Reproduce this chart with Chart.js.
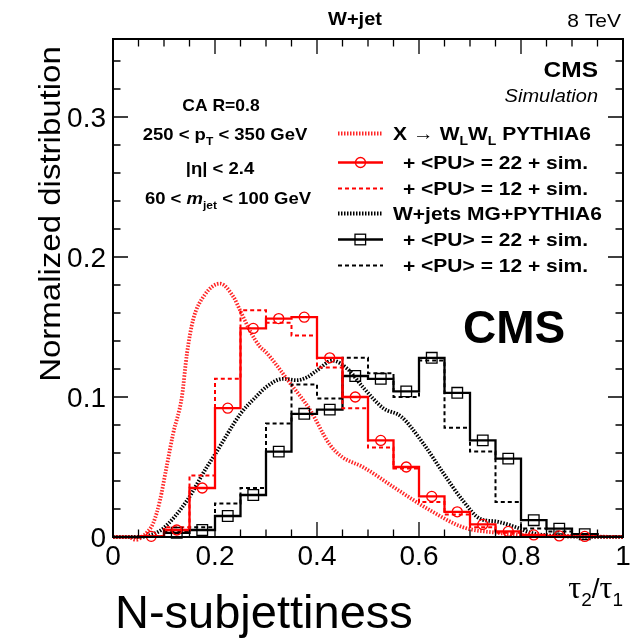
<!DOCTYPE html>
<html>
<head>
<meta charset="utf-8">
<script src="https://cdn.jsdelivr.net/npm/chart.js@4.4.1/dist/chart.umd.min.js"></script>
<style>
  html, body { margin: 0; padding: 0; background: #fff; }
  #wrap { width: 636px; height: 639px; }
</style>
</head>
<body>
<div id="wrap"><canvas id="nsub" width="636" height="639"></canvas></div>
<script>
// tau2/tau1 binning (20 bins of 0.05)
const binEdges = [0, 0.05, 0.1, 0.15, 0.2, 0.25, 0.3, 0.35, 0.4, 0.45, 0.5,
                  0.55, 0.6, 0.65, 0.7, 0.75, 0.8, 0.85, 0.9, 0.95, 1];

// X -> WLWL, PU 22 and PU 12
const wwPU22 = [0, 0.0005, 0.005, 0.035, 0.092, 0.149, 0.156, 0.157, 0.128, 0.100,
                0.069, 0.050, 0.029, 0.018, 0.009, 0.004, 0.0015, 0.0008, 0.0004, 0.0001];
const wwPU12 = [0, 0.0008, 0.007, 0.044, 0.113, 0.162, 0.153, 0.144, 0.121, 0.092,
                0.064, 0.049, 0.025, 0.016, 0.007, 0.003, 0.001, 0.0006, 0.0003, 0.0001];

// W+jets, PU 22 and PU 12
const wjPU22 = [0, 0.0003, 0.003, 0.005, 0.015, 0.030, 0.061, 0.088, 0.091, 0.115,
                0.113, 0.104, 0.128, 0.103, 0.069, 0.056, 0.012, 0.006, 0.002, 0.0003];
const wjPU12 = [0, 0.0005, 0.004, 0.007, 0.024, 0.035, 0.081, 0.109, 0.099, 0.128,
                0.117, 0.100, 0.126, 0.078, 0.061, 0.025, 0.006, 0.004, 0.002, 0.0003];

// generator-level curves (no PU)
const wwGenX = [0, 0.03, 0.045, 0.06, 0.066, 0.079, 0.092, 0.105, 0.118, 0.135, 0.145, 0.157,
                0.18, 0.21, 0.237, 0.249, 0.269, 0.288, 0.30, 0.347, 0.386, 0.425, 0.45, 0.49,
                0.557, 0.622, 0.686, 0.753, 0.82, 0.9, 1];
const wwGenY = [0, 0, -0.002, 0.001, 0.003, 0.010, 0.026, 0.050, 0.074, 0.100, 0.131, 0.155,
                0.173, 0.181, 0.171, 0.162, 0.147, 0.136, 0.132, 0.110, 0.091, 0.066, 0.057, 0.050,
                0.034, 0.019, 0.007, 0.003, 0.001, 0.0005, 0];
const wjGenX = [0, 0.05, 0.07, 0.098, 0.145, 0.184, 0.20, 0.25, 0.28, 0.30, 0.333, 0.36, 0.38,
                0.40, 0.43, 0.46, 0.49, 0.53, 0.565, 0.608, 0.647, 0.686, 0.72, 0.753, 0.79,
                0.82, 0.86, 1];
const wjGenY = [0, 0, 0.001, 0.006, 0.026, 0.050, 0.059, 0.088, 0.100, 0.107, 0.113, 0.112, 0.114,
                0.119, 0.126, 0.120, 0.107, 0.092, 0.086, 0.067, 0.046, 0.026, 0.013, 0.011, 0.007,
                0.003, 0.001, 0];

const xTickValues = [0, 0.2, 0.4, 0.6, 0.8, 1];
const xTickLabels = ['0', '0.2', '0.4', '0.6', '0.8', '1'];
const yTickValues = [0, 0.1, 0.2, 0.3];
const yTickLabels = ['0', '0.1', '0.2', '0.3'];

const RED = '#ff0000';
const RED_DOT = 'rgba(255,0,0,0.85)';
const SANS = '"Liberation Sans", Arial, sans-serif';
const SQ = 0.9;   // vertical squeeze of the ROOT-style labels

function steps(values) {
    const pts = [];
    values.forEach((v, i) => {
        pts.push({ x: binEdges[i], y: v });
        pts.push({ x: binEdges[i + 1], y: v });
    });
    return pts;
}

function centers(values, from, to) {
    const pts = [];
    for (let i = from; i <= to; i++) {
        pts.push({ x: (binEdges[i] + binEdges[i + 1]) / 2, y: values[i] });
    }
    return pts;
}

function zip(xs, ys) {
    return xs.map((x, i) => ({ x: x, y: ys[i] }));
}

// Text runs with optional sub-script offsets
function drawRuns(ctx, runs, x, y, align, sy) {
    let total = 0;
    runs.forEach(r => { ctx.font = r.font; r.w = ctx.measureText(r.t).width; total += r.w; });
    let cx = align === 'center' ? x - total / 2 : align === 'right' ? x - total : x;
    ctx.save();
    ctx.translate(0, y);
    ctx.scale(1, sy || 1);
    ctx.textAlign = 'left';
    ctx.textBaseline = 'alphabetic';
    ctx.fillStyle = '#000';
    runs.forEach(r => {
        ctx.font = r.font;
        ctx.fillText(r.t, cx, (r.dy || 0) / (sy || 1));
        cx += r.w;
    });
    ctx.restore();
}

const datasets = [
    { label: 'wwPU22 markers', data: centers(wwPU22, 1, 18), showLine: false,
      pointStyle: 'circle', pointRadius: 5, borderColor: RED, backgroundColor: 'rgba(0,0,0,0)',
      pointBorderWidth: 1.3, clip: 8 },
    { label: 'wjPU22 markers', data: centers(wjPU22, 2, 18), showLine: false,
      pointStyle: 'rect', pointRadius: 7.5, borderColor: '#000', backgroundColor: 'rgba(0,0,0,0)',
      pointBorderWidth: 1.3, clip: 8 },
    { label: 'wwPU22', data: steps(wwPU22), borderColor: RED, borderWidth: 2.3, clip: 3 },
    { label: 'wwPU12', data: steps(wwPU12), borderColor: RED, borderWidth: 2, borderDash: [4, 3], clip: 3 },
    { label: 'wjPU22', data: steps(wjPU22), borderColor: '#000', borderWidth: 2.3, clip: 3 },
    { label: 'wjPU12', data: steps(wjPU12), borderColor: '#000', borderWidth: 2, borderDash: [4, 3], clip: 3 },
    { label: 'wwGen', data: zip(wwGenX, wwGenY), borderColor: RED_DOT, borderWidth: 3.8,
      borderDash: [1.5, 1.5], cubicInterpolationMode: 'monotone', clip: 8 },
    { label: 'wjGen', data: zip(wjGenX, wjGenY), borderColor: '#000', borderWidth: 3.8,
      borderDash: [1.5, 1.5], cubicInterpolationMode: 'monotone', clip: 8 }
];

// legend rows: sample style + text runs
const B = sz => 'bold ' + sz + 'px ' + SANS;
const legendRows = [
    { line: { color: RED_DOT, width: 3.8, dash: [1.5, 1.5] }, x: 393,
      runs: [{ t: 'X \u2192 W', font: B(21) }, { t: 'L', font: B(14), dy: 5 },
             { t: 'W', font: B(21) }, { t: 'L', font: B(14), dy: 5 }, { t: ' PYTHIA6', font: B(21) }] },
    { line: { color: RED, width: 2.3, dash: [] }, marker: 'circle', x: 403,
      runs: [{ t: '+ <PU> = 22 + sim.', font: B(21) }] },
    { line: { color: RED, width: 2, dash: [4, 3] }, x: 403,
      runs: [{ t: '+ <PU> = 12 + sim.', font: B(21) }] },
    { line: { color: '#000', width: 3.8, dash: [1.5, 1.5] }, x: 393,
      runs: [{ t: 'W+jets MG+PYTHIA6', font: B(21) }] },
    { line: { color: '#000', width: 2.3, dash: [] }, marker: 'rect', x: 403,
      runs: [{ t: '+ <PU> = 22 + sim.', font: B(21) }] },
    { line: { color: '#000', width: 2, dash: [4, 3] }, x: 403,
      runs: [{ t: '+ <PU> = 12 + sim.', font: B(21) }] }
];
const legendBaselines = [140, 169, 195, 220, 246, 272];

const frameAndText = {
    id: 'frameAndText',
    afterDatasetsDraw(chart) {
        const { ctx, chartArea: a, scales: { x, y } } = chart;
        ctx.save();

        // frame
        ctx.strokeStyle = '#000';
        ctx.lineWidth = 2;
        ctx.setLineDash([]);
        ctx.strokeRect(a.left, a.top, a.right - a.left, a.bottom - a.top);

        // inward ticks on all four sides
        ctx.lineWidth = 1.3;
        ctx.beginPath();
        for (let i = 0; i <= 20; i++) {
            const px = x.getPixelForValue(i * 0.05);
            const len = i % 4 === 0 ? 15 : 7.5;
            ctx.moveTo(px, a.bottom); ctx.lineTo(px, a.bottom - len);
            ctx.moveTo(px, a.top); ctx.lineTo(px, a.top + len);
        }
        for (let i = 0; i <= 17; i++) {
            const py = y.getPixelForValue(i * 0.02);
            const len = i % 5 === 0 ? 15 : 7.5;
            ctx.moveTo(a.left, py); ctx.lineTo(a.left + len, py);
            ctx.moveTo(a.right, py); ctx.lineTo(a.right - len, py);
        }
        ctx.stroke();

        // tick labels
        ctx.fillStyle = '#000';
        ctx.font = '28px ' + SANS;
        ctx.textBaseline = 'alphabetic';
        ctx.textAlign = 'center';
        xTickValues.forEach((v, i) => ctx.fillText(xTickLabels[i], x.getPixelForValue(v), 565));
        ctx.textAlign = 'right';
        yTickValues.forEach((v, i) => ctx.fillText(yTickLabels[i], 106, y.getPixelForValue(v) + 10));

        // axis titles
        ctx.save();
        ctx.translate(60, 214);
        ctx.rotate(-Math.PI / 2);
        ctx.scale(1, SQ);
        ctx.font = '33px ' + SANS;
        ctx.textAlign = 'center';
        ctx.fillText('Normalized distribution', 0, 0);
        ctx.restore();

        drawRuns(ctx, [
            { t: '\u03c4', font: '32px "Liberation Serif", serif' },
            { t: '2', font: '19px ' + SANS, dy: 8 },
            { t: '/', font: '28px ' + SANS },
            { t: '\u03c4', font: '32px "Liberation Serif", serif' },
            { t: '1', font: '19px ' + SANS, dy: 8 }
        ], 623, 598, 'right', 1);

        ctx.font = '47px ' + SANS;
        ctx.textAlign = 'left';
        ctx.fillText('N-subjettiness', 115, 628);

        // header and CMS labels
        drawRuns(ctx, [{ t: 'W+jet', font: B(20) }], 355, 25, 'center', SQ);
        drawRuns(ctx, [{ t: '8 TeV', font: '21px ' + SANS }], 621, 26.5, 'right', SQ);
        drawRuns(ctx, [{ t: 'CMS', font: B(24.5) }], 598, 77, 'right', SQ);
        drawRuns(ctx, [{ t: 'Simulation', font: 'italic 20px ' + SANS }], 598, 102, 'right', SQ);
        drawRuns(ctx, [{ t: 'CMS', font: B(46) }], 463, 343, 'left', 1);

        // selection text
        drawRuns(ctx, [{ t: 'CA R=0.8', font: B(17.5) }], 221, 111, 'center', SQ);
        drawRuns(ctx, [{ t: '250 < p', font: B(18.5) }, { t: 'T', font: B(12), dy: 5 },
                       { t: ' < 350 GeV', font: B(18.5) }], 225, 140, 'center', SQ);
        drawRuns(ctx, [{ t: '|\u03b7| < 2.4', font: B(18.5) }], 220, 174, 'center', SQ);
        drawRuns(ctx, [{ t: '60 < ', font: B(18.5) }, { t: 'm', font: 'italic ' + B(18.5) },
                       { t: 'jet', font: B(12), dy: 5 }, { t: ' < 100 GeV', font: B(18.5) }],
                 228, 204, 'center', SQ);

        // legend
        legendRows.forEach((row, i) => {
            const base = legendBaselines[i];
            const ly = base - 6.5;
            ctx.save();
            ctx.strokeStyle = row.line.color;
            ctx.lineWidth = row.line.width;
            ctx.setLineDash(row.line.dash);
            ctx.beginPath();
            ctx.moveTo(338, ly); ctx.lineTo(383, ly);
            ctx.stroke();
            ctx.setLineDash([]);
            ctx.lineWidth = 1.3;
            if (row.marker === 'circle') {
                ctx.beginPath();
                ctx.arc(360.5, ly, 5, 0, Math.PI * 2);
                ctx.stroke();
            } else if (row.marker === 'rect') {
                ctx.strokeRect(355, ly - 5.3, 10.6, 10.6);
            }
            ctx.restore();
            drawRuns(ctx, row.runs, row.x, base, 'left', SQ);
        });

        ctx.restore();
    }
};

new Chart(document.getElementById('nsub'), {
    type: 'line',
    data: { datasets: datasets },
    options: {
        responsive: false,
        animation: false,
        layout: { padding: { left: 113, right: 13, top: 39, bottom: 102 } },
        elements: { point: { radius: 0 }, line: { tension: 0 } },
        scales: {
            x: { type: 'linear', min: 0, max: 1, display: false },
            y: { type: 'linear', min: 0, max: 0.3557, display: false }
        },
        plugins: { legend: { display: false }, tooltip: { enabled: false } }
    },
    plugins: [frameAndText]
});
</script>
</body>
</html>
